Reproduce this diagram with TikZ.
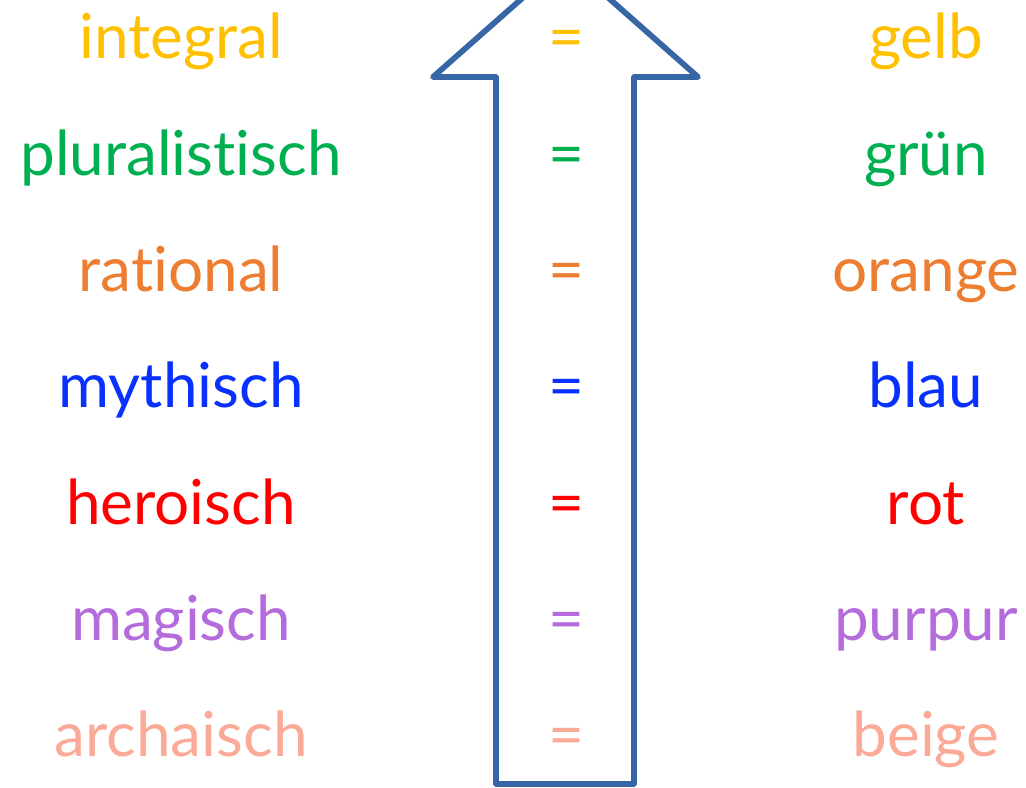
\documentclass[tikz,border=0pt]{standalone}
\usepackage{fontspec}
\setmainfont{Lato}[Ligatures={NoCommon}]
\definecolor{cgelb}{RGB}{255,192,0}
\definecolor{cgruen}{RGB}{0,176,80}
\definecolor{corange}{RGB}{237,125,49}
\definecolor{cblau}{RGB}{8,48,255}
\definecolor{crot}{RGB}{255,0,0}
\definecolor{cpurpur}{RGB}{180,108,220}
\definecolor{cbeige}{RGB}{252,170,152}
\definecolor{arrowblue}{RGB}{54,102,166}
\tikzset{
  lbl/.style={font=\fontsize{46.5}{54}\selectfont, inner sep=0pt, anchor=base},
  bigarrow/.style={draw=arrowblue, line width=4.3pt, line join=round, fill=white}
}
\begin{document}
\begin{tikzpicture}[x=0.75pt,y=-0.75pt]
\useasboundingbox (0,0) rectangle (1026,788);
\clip (0,0) rectangle (1026,788);
\draw[bigarrow] (496,784) -- (496,77) -- (433,77) -- (565.5,-40) -- (698,77) -- (634,77) -- (634,784) -- cycle;
\foreach \i/\l/\r/\c in {0/integral/gelb/cgelb, 1/pluralistisch/grün/cgruen, 2/rational/orange/corange, 3/mythisch/blau/cblau, 4/heroisch/rot/crot, 5/magisch/purpur/cpurpur, 6/archaisch/beige/cbeige}{
  \node[lbl, text=\c] (l\i) at (181, 59+116.3*\i) {\l};
  \node[lbl, text=\c] (e\i) at (566, 59+116.3*\i) {=};
  \node[lbl, text=\c] (r\i) at (926, 59+116.3*\i) {\r};
}
\end{tikzpicture}
\end{document}
